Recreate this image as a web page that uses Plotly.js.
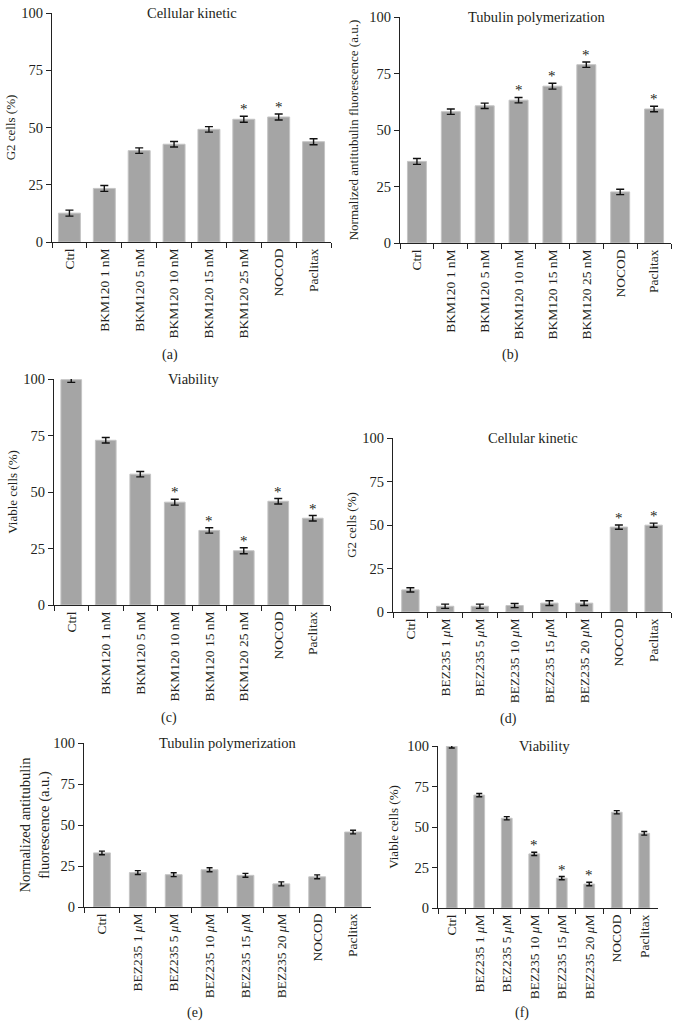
<!DOCTYPE html>
<html>
<head>
<meta charset="utf-8">
<script src="https://cdn.plot.ly/plotly-3.0.1.min.js"></script>
<style>html,body{margin:0;padding:0;background:#fff}#chart{width:680px;height:1027px}</style>
</head>
<body>
<div id="chart"></div>
<script>
// ---- Data ----
const bkmCategories = ['Ctrl', 'BKM120 1 nM', 'BKM120 5 nM', 'BKM120 10 nM', 'BKM120 15 nM', 'BKM120 25 nM', 'NOCOD', 'Paclitax'];
const bezCategories = ['Ctrl', 'BEZ235 1 <i>μ</i>M', 'BEZ235 5 <i>μ</i>M', 'BEZ235 10 <i>μ</i>M', 'BEZ235 15 <i>μ</i>M', 'BEZ235 20 <i>μ</i>M', 'NOCOD', 'Paclitax'];

const aG2Values     = [12.6, 23.4, 39.9, 42.7, 49.2, 53.6, 54.6, 43.8];
const aG2Errors     = [1.3, 1.3, 1.2, 1.2, 1.2, 1.3, 1.3, 1.3];
const aG2Signif     = [0, 0, 0, 0, 0, 1, 1, 0];

const bTubValues    = [36.1, 58.1, 60.7, 63.2, 69.4, 78.9, 22.6, 59.3];
const bTubErrors    = [1.3, 1.2, 1.2, 1.2, 1.3, 1.2, 1.2, 1.2];
const bTubSignif    = [0, 0, 0, 1, 1, 1, 0, 1];

const cViaValues    = [99.7, 72.9, 57.9, 45.5, 33.0, 24.0, 45.9, 38.4];
const cViaErrors    = [1.2, 1.2, 1.2, 1.3, 1.2, 1.3, 1.2, 1.2];
const cViaSignif    = [0, 0, 0, 1, 1, 1, 1, 1];

const dG2Values     = [12.7, 3.3, 3.3, 3.7, 5.1, 5.1, 48.8, 49.9];
const dG2Errors     = [1.2, 1.2, 1.2, 1.2, 1.4, 1.4, 1.2, 1.2];
const dG2Signif     = [0, 0, 0, 0, 0, 0, 1, 1];

const eTubValues    = [33.0, 21.0, 19.7, 22.7, 19.3, 14.1, 18.4, 45.7];
const eTubErrors    = [1.1, 1.2, 1.2, 1.2, 1.2, 1.2, 1.2, 1.1];
const eTubSignif    = [0, 0, 0, 0, 0, 0, 0, 0];

const fViaValues    = [99.8, 69.7, 55.4, 33.4, 18.4, 14.8, 59.1, 46.1];
const fViaErrors    = [1.0, 1.0, 1.0, 1.0, 1.0, 1.1, 1.0, 1.1];
const fViaSignif    = [0, 0, 0, 1, 1, 1, 0, 0];

const yTickValues = [0, 25, 50, 75, 100];

// ---- Layout of panels (pixel boxes) ----
const W = 680, H = 1027;
const FONT = 'Liberation Serif, DejaVu Serif, serif';
const TXT = '#231f20';
const panels = [
  {cats: bkmCategories, vals: aG2Values, err: aG2Errors, sig: aG2Signif, title: 'Cellular kinetic', ytitle: 'G2 cells (%)',
   label: '(a)', box: [52, 331, 13, 242], bw: 0.63, cap: 4, standoff: 2, tsize: 13, titleX: 192, labelPos: [170, 355]},
  {cats: bkmCategories, vals: bTubValues, err: bTubErrors, sig: bTubSignif, title: 'Tubulin polymerization', ytitle: 'Normalized antitubulin fluorescence (a.u.)',
   label: '(b)', box: [400, 671, 17, 243], bw: 0.56, cap: 4, standoff: 7, tsize: 13, titleX: 537, labelPos: [510, 355]},
  {cats: bkmCategories, vals: cViaValues, err: cViaErrors, sig: cViaSignif, title: 'Viability', ytitle: 'Viable cells (%)',
   label: '(c)', box: [54, 330, 379, 605], bw: 0.6, cap: 4, standoff: 2, tsize: 13, titleX: 193, labelPos: [169, 718]},
  {cats: bezCategories, vals: dG2Values, err: dG2Errors, sig: dG2Signif, title: 'Cellular kinetic', ytitle: 'G2 cells (%)',
   label: '(d)', box: [393, 671, 438, 612], bw: 0.5, cap: 4, standoff: 2, tsize: 13, titleX: 533, labelPos: [508, 719]},
  {cats: bezCategories, vals: eTubValues, err: eTubErrors, sig: eTubSignif, title: 'Tubulin polymerization', ytitle: 'Normalized antitubulin<br>fluorescence (a.u.)',
   label: '(e)', box: [84, 371, 743, 907], bw: 0.47, cap: 3, standoff: 0, tsize: 14.5, titleX: 228, labelPos: [195, 1013]},
  {cats: bezCategories, vals: fViaValues, err: fViaErrors, sig: fViaSignif, title: 'Viability', ytitle: 'Viable cells (%)',
   label: '(f)', box: [438, 658, 746, 908], bw: 0.39, cap: 3, standoff: 5, tsize: 13, titleX: 544, labelPos: [522, 1013]}
];

const traces = [];
const layout = {
  width: W, height: H,
  margin: {l: 0, r: 0, t: 0, b: 0},
  paper_bgcolor: '#fff', plot_bgcolor: '#fff',
  showlegend: false,
  font: {family: FONT, color: TXT, size: 14},
  annotations: []
};

panels.forEach((p, i) => {
  const n = i + 1;
  const xa = 'x' + (n === 1 ? '' : n), ya = 'y' + (n === 1 ? '' : n);
  const xk = 'xaxis' + (n === 1 ? '' : n), yk = 'yaxis' + (n === 1 ? '' : n);
  const [x0, x1, yTop, yBot] = p.box;
  traces.push({
    type: 'bar', x: p.cats, y: p.vals, xaxis: xa, yaxis: ya, width: p.bw,
    marker: {color: '#a5a5a5', line: {color: '#c4c4c4', width: 1}},
    error_y: {type: 'data', array: p.err, visible: true, color: '#111', thickness: 1.4, width: p.cap},
    hoverinfo: 'x+y'
  });
  // significance asterisks, positioned via the data axes
  p.cats.forEach((c, k) => {
    if (p.sig[k]) {
      layout.annotations.push({
        xref: xa, yref: ya, x: c, y: p.vals[k] + p.err[k],
        xanchor: 'center', yanchor: 'bottom', yshift: -3, showarrow: false,
        text: '*', font: {family: FONT, size: 15, color: TXT}
      });
    }
  });
  layout[xk] = {
    domain: [x0 / W, x1 / W], anchor: ya, type: 'category', categoryorder: 'array', categoryarray: p.cats,
    range: [-0.5, 7.5], fixedrange: true,
    showline: true, linecolor: '#222', linewidth: 1,
    ticks: 'outside', tickson: 'boundaries', ticklen: 5, tickcolor: '#222', tickwidth: 1,
    tickangle: -90, tickfont: {family: FONT, size: 13.5, color: TXT},
    showgrid: false, zeroline: false
  };
  layout[yk] = {
    domain: [1 - yBot / H, 1 - yTop / H], anchor: xa, range: [0, 100], fixedrange: true,
    tickmode: 'array', tickvals: yTickValues, ticktext: yTickValues.map(String),
    showline: true, linecolor: '#222', linewidth: 1,
    ticks: 'outside', ticklen: 5, tickcolor: '#222', tickwidth: 1,
    tickfont: {family: FONT, size: 14.5, color: TXT},
    showgrid: false, zeroline: false,
    title: {text: p.ytitle, font: {family: FONT, size: p.tsize, color: TXT}, standoff: p.standoff}
  };
  layout.annotations.push({
    xref: 'paper', yref: 'paper', x: p.titleX / W, y: 1 - yTop / H,
    xanchor: 'center', yanchor: 'middle', showarrow: false,
    text: p.title, font: {family: FONT, size: 14.5, color: TXT}
  });
  layout.annotations.push({
    xref: 'paper', yref: 'paper', x: p.labelPos[0] / W, y: 1 - p.labelPos[1] / H,
    xanchor: 'center', yanchor: 'middle', showarrow: false,
    text: p.label, font: {family: FONT, size: 14, color: TXT}
  });
});

Plotly.newPlot('chart', traces, layout, {displayModeBar: false, staticPlot: true});
</script>
</body>
</html>
